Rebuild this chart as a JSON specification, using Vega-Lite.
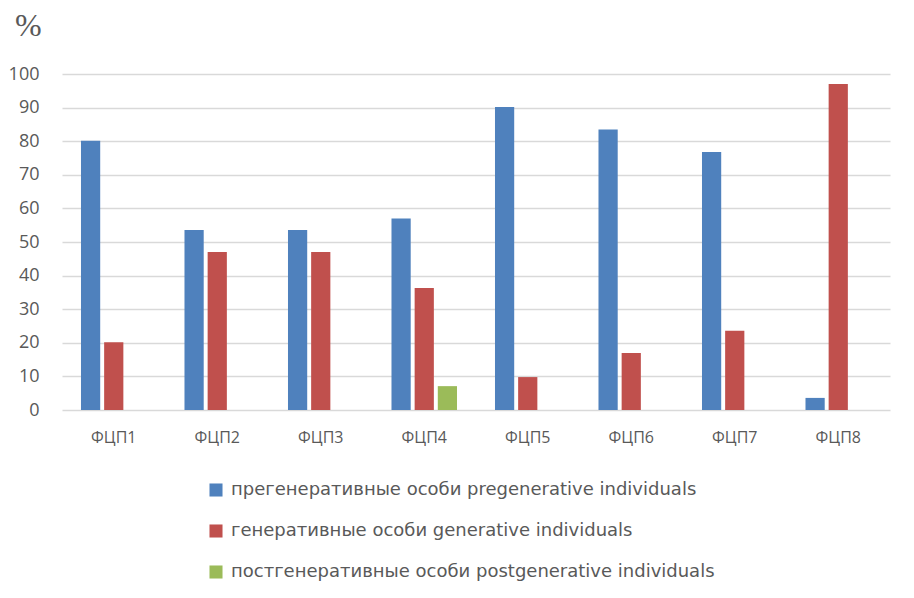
{
  "$schema": "https://vega.github.io/schema/vega-lite/v6.json",
  "description": "Age-state structure of populations, share by group, %.",
  "autosize": {"type": "none"},
  "padding": {"left": 62, "top": 74, "right": 24, "bottom": 188},
  "width": 828,
  "height": 336,
  "background": "white",
  "title": {
    "text": "%",
    "font": "Liberation Serif",
    "fontSize": 32,
    "fontWeight": "normal",
    "color": "#595959",
    "anchor": "start",
    "frame": "group",
    "dx": -47,
    "dy": 5,
    "offset": 27
  },
  "data": {
    "values": [
      {"site": "ФЦП1", "group": "прегенеративные особи pregenerative individuals", "value": 80.1},
      {"site": "ФЦП1", "group": "генеративные особи generative individuals", "value": 20.2},
      {"site": "ФЦП2", "group": "прегенеративные особи pregenerative individuals", "value": 53.6},
      {"site": "ФЦП2", "group": "генеративные особи generative individuals", "value": 47.0},
      {"site": "ФЦП3", "group": "прегенеративные особи pregenerative individuals", "value": 53.6},
      {"site": "ФЦП3", "group": "генеративные особи generative individuals", "value": 47.0},
      {"site": "ФЦП4", "group": "прегенеративные особи pregenerative individuals", "value": 57.0},
      {"site": "ФЦП4", "group": "генеративные особи generative individuals", "value": 36.3},
      {"site": "ФЦП4", "group": "постгенеративные особи postgenerative individuals", "value": 7.1},
      {"site": "ФЦП5", "group": "прегенеративные особи pregenerative individuals", "value": 90.2},
      {"site": "ФЦП5", "group": "генеративные особи generative individuals", "value": 9.8},
      {"site": "ФЦП6", "group": "прегенеративные особи pregenerative individuals", "value": 83.5},
      {"site": "ФЦП6", "group": "генеративные особи generative individuals", "value": 17.0},
      {"site": "ФЦП7", "group": "прегенеративные особи pregenerative individuals", "value": 76.8},
      {"site": "ФЦП7", "group": "генеративные особи generative individuals", "value": 23.6},
      {"site": "ФЦП8", "group": "прегенеративные особи pregenerative individuals", "value": 3.6},
      {"site": "ФЦП8", "group": "генеративные особи generative individuals", "value": 97.0}
    ]
  },
  "config": {
    "view": {"stroke": null},
    "font": "Open Sans",
    "axis": {"labelColor": "#595959", "labelFontSize": 16, "ticks": false, "domain": false},
    "legend": {"labelColor": "#595959"}
  },
  "mark": {"type": "bar"},
  "encoding": {
    "x": {
      "field": "site",
      "type": "nominal",
      "sort": null,
      "scale": {"paddingInner": 0, "paddingOuter": 0},
      "axis": {"title": null, "labelAngle": 0, "labelPadding": 19, "labelFontSize": 16}
    },
    "xOffset": {
      "field": "group",
      "type": "nominal",
      "sort": [
        "прегенеративные особи pregenerative individuals",
        "генеративные особи generative individuals",
        "постгенеративные особи postgenerative individuals"
      ],
      "scale": {"paddingInner": 0.17, "paddingOuter": 0.82}
    },
    "y": {
      "field": "value",
      "type": "quantitative",
      "scale": {"domain": [0, 100], "nice": false},
      "axis": {
        "values": [0, 10, 20, 30, 40, 50, 60, 70, 80, 90, 100],
        "gridColor": "#d9d9d9",
        "gridWidth": 1.3,
        "labelPadding": 23,
        "labelFontSize": 18,
        "title": null
      }
    },
    "color": {
      "field": "group",
      "type": "nominal",
      "sort": [
        "прегенеративные особи pregenerative individuals",
        "генеративные особи generative individuals",
        "постгенеративные особи postgenerative individuals"
      ],
      "scale": {
        "domain": [
          "прегенеративные особи pregenerative individuals",
          "генеративные особи generative individuals",
          "постгенеративные особи postgenerative individuals"
        ],
        "range": ["#4f81bd", "#c0504d", "#9bbb59"]
      },
      "legend": {
        "title": null,
        "orient": "none",
        "direction": "vertical",
        "legendX": 145,
        "legendY": 407,
        "symbolType": "square",
        "symbolSize": 170,
        "symbolStrokeWidth": 0,
        "symbolOpacity": 1,
        "labelFont": "DejaVu Sans",
        "labelFontSize": 18,
        "labelLimit": 0,
        "labelOffset": 6,
        "rowPadding": 23
      }
    }
  }
}
